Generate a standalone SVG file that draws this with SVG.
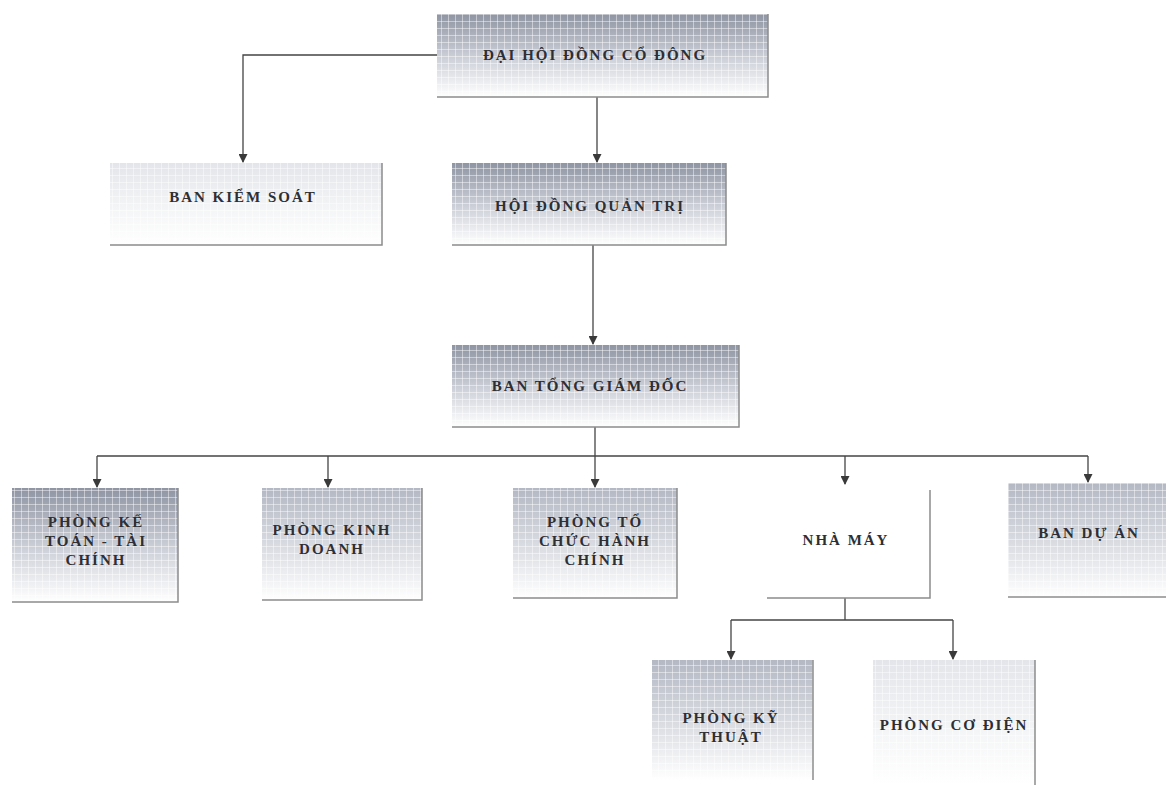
<svg xmlns="http://www.w3.org/2000/svg" width="1166" height="789" viewBox="0 0 1166 789">
<defs>
<linearGradient id="gDark" x1="0" y1="0" x2="0" y2="1">
<stop offset="0" stop-color="#8f95a3"/>
<stop offset="0.55" stop-color="#cfd2da"/>
<stop offset="1" stop-color="#ffffff"/>
</linearGradient>
<linearGradient id="gMid" x1="0" y1="0" x2="0" y2="1">
<stop offset="0" stop-color="#b3b8c3"/>
<stop offset="0.6" stop-color="#dfe1e6"/>
<stop offset="1" stop-color="#ffffff"/>
</linearGradient>
<linearGradient id="gLight" x1="0" y1="0" x2="0" y2="1">
<stop offset="0" stop-color="#e3e5ea"/>
<stop offset="0.6" stop-color="#f5f6f7"/>
<stop offset="1" stop-color="#ffffff"/>
</linearGradient>
<pattern id="grid" width="7" height="7" patternUnits="userSpaceOnUse">
<path d="M0 0.5H7M0.5 0V7" stroke="#ffffff" stroke-opacity="0.45" stroke-width="1" fill="none"/>
</pattern>
<marker id="arr" markerWidth="9" markerHeight="9" refX="8" refY="4.5" orient="auto" markerUnits="userSpaceOnUse" viewBox="0 0 9 9">
<path d="M0 0L9 4.5L0 9Z" fill="#3a3a3a"/>
</marker>
<style>
.t{font-family:"Liberation Serif","DejaVu Serif",serif;font-weight:bold;font-size:15px;letter-spacing:2px;fill:#2e2e33;text-anchor:middle;}
.sh{fill:none;stroke:#8c8c8c;stroke-width:1.5;}
.c{fill:none;stroke:#444;stroke-width:1.3;}
.ca{fill:none;stroke:#444;stroke-width:1.3;marker-end:url(#arr);}
</style>
</defs>
<rect width="1166" height="789" fill="#ffffff"/>

<g id="connectors">
<path class="ca" d="M437 55H243V162"/>
<path class="ca" d="M597 97V162"/>
<path class="ca" d="M593 245V344"/>
<path class="c" d="M595 427V456"/>
<path class="c" d="M97 456H1088"/>
<path class="ca" d="M97 456V487"/>
<path class="ca" d="M328 456V487"/>
<path class="ca" d="M595 456V487"/>
<path class="ca" d="M845 456V484"/>
<path class="ca" d="M1088 456V482"/>
<path class="c" d="M845 598V620"/>
<path class="c" d="M731 620H953"/>
<path class="ca" d="M731 620V659"/>
<path class="ca" d="M953 620V659"/>
</g>

<g id="n-dhdcd">
<rect x="437" y="14" width="331" height="83" fill="url(#gDark)"/>
<rect x="437" y="14" width="331" height="83" fill="url(#grid)"/>
<path class="sh" d="M768 14V97H437"/>
<text class="t" x="595" y="60">ĐẠI HỘI ĐỒNG CỔ ĐÔNG</text>
</g>

<g id="n-bks">
<rect x="110" y="163" width="272" height="82" fill="url(#gLight)"/>
<rect x="110" y="163" width="272" height="82" fill="url(#grid)"/>
<path class="sh" d="M382 163V245H110"/>
<text class="t" x="243" y="202">BAN KIỂM SOÁT</text>
</g>

<g id="n-hdqt">
<rect x="452" y="163" width="274" height="82" fill="url(#gDark)"/>
<rect x="452" y="163" width="274" height="82" fill="url(#grid)"/>
<path class="sh" d="M726 163V245H452"/>
<text class="t" x="590" y="211">HỘI ĐỒNG QUẢN TRỊ</text>
</g>

<g id="n-btgd">
<rect x="452" y="345" width="287" height="82" fill="url(#gDark)"/>
<rect x="452" y="345" width="287" height="82" fill="url(#grid)"/>
<path class="sh" d="M739 345V427H452"/>
<text class="t" x="590" y="391">BAN TỔNG GIÁM ĐỐC</text>
</g>

<g id="n-pktc">
<rect x="12" y="488" width="166" height="114" fill="url(#gDark)"/>
<rect x="12" y="488" width="166" height="114" fill="url(#grid)"/>
<path class="sh" d="M178 488V602H12"/>
<text class="t" x="96" y="527">PHÒNG KẾ</text>
<text class="t" x="96" y="546">TOÁN - TÀI</text>
<text class="t" x="96" y="565">CHÍNH</text>
</g>

<g id="n-pkd">
<rect x="262" y="488" width="160" height="112" fill="url(#gMid)"/>
<rect x="262" y="488" width="160" height="112" fill="url(#grid)"/>
<path class="sh" d="M422 488V600H262"/>
<text class="t" x="332" y="535">PHÒNG KINH</text>
<text class="t" x="332" y="554">DOANH</text>
</g>

<g id="n-ptchc">
<rect x="513" y="488" width="164" height="110" fill="url(#gMid)"/>
<rect x="513" y="488" width="164" height="110" fill="url(#grid)"/>
<path class="sh" d="M677 488V598H513"/>
<text class="t" x="595" y="527">PHÒNG TỔ</text>
<text class="t" x="595" y="546">CHỨC HÀNH</text>
<text class="t" x="595" y="565">CHÍNH</text>
</g>

<g id="n-nhamay">
<rect x="767" y="488" width="163" height="110" fill="#ffffff"/>
<path class="sh" d="M930 490V598H767"/>
<text class="t" x="846" y="545">NHÀ MÁY</text>
</g>

<g id="n-bda">
<rect x="1008" y="483" width="158" height="114" fill="url(#gMid)"/>
<rect x="1008" y="483" width="158" height="114" fill="url(#grid)"/>
<path class="sh" d="M1166 597H1008"/>
<text class="t" x="1089" y="538">BAN DỰ ÁN</text>
</g>

<g id="n-pkt">
<rect x="652" y="660" width="161" height="120" fill="url(#gMid)"/>
<rect x="652" y="660" width="161" height="120" fill="url(#grid)"/>
<path class="sh" d="M813 660V780"/>
<text class="t" x="731" y="723">PHÒNG KỸ</text>
<text class="t" x="731" y="742">THUẬT</text>
</g>

<g id="n-pcd">
<rect x="873" y="660" width="162" height="125" fill="url(#gLight)"/>
<rect x="873" y="660" width="162" height="125" fill="url(#grid)"/>
<path class="sh" d="M1035 660V785"/>
<text class="t" x="954" y="730">PHÒNG CƠ ĐIỆN</text>
</g>
</svg>
